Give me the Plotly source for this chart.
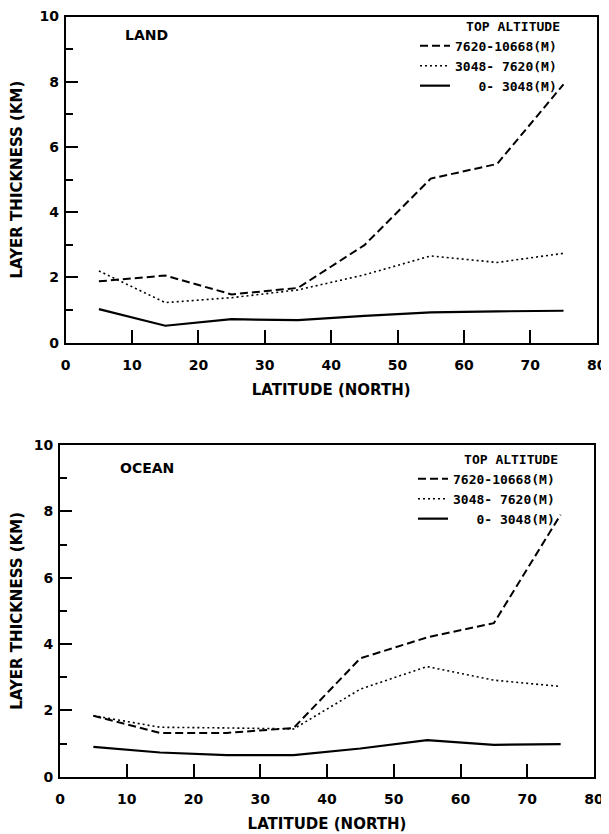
import plotly.graph_objects as go

lat = [5, 15, 25, 35, 45, 55, 65, 75]

land_upper = [1.88, 2.06, 1.48, 1.68, 2.99, 5.03, 5.48, 7.92]
land_middle = [2.20, 1.23, 1.38, 1.62, 2.08, 2.66, 2.46, 2.74]
land_lower = [1.03, 0.52, 0.72, 0.69, 0.82, 0.93, 0.96, 0.98]

ocean_upper = [1.84, 1.32, 1.32, 1.47, 3.57, 4.20, 4.63, 7.90]
ocean_middle = [1.84, 1.49, 1.47, 1.44, 2.64, 3.32, 2.91, 2.72]
ocean_lower = [0.90, 0.73, 0.65, 0.65, 0.85, 1.10, 0.96, 0.98]

series_names = ["7620-10668(M)", "3048-\u00a07620(M)", "\u00a0\u00a0\u00a00-\u00a03048(M)"]
panel_labels = ["LAND", "OCEAN"]
x_ticks = [0, 10, 20, 30, 40, 50, 60, 70, 80]
y_ticks = [0, 2, 4, 6, 8, 10]

styles = [
    dict(color="black", width=2, dash="8px,4px"),
    dict(color="black", width=1.6, dash="2px,3px"),
    dict(color="black", width=2.2, dash="solid"),
]

FONT = "DejaVu Sans"
MONO = "DejaVu Sans Mono"

fig = go.Figure()

panels = [
    ("x", "y", "legend", [land_upper, land_middle, land_lower]),
    ("x2", "y2", "legend2", [ocean_upper, ocean_middle, ocean_lower]),
]
for xa, ya, lg, data in panels:
    for name, vals, st in zip(series_names, data, styles):
        fig.add_trace(go.Scatter(
            x=lat, y=vals, mode="lines", name=name, line=st,
            xaxis=xa, yaxis=ya, legend=lg, showlegend=True,
        ))

W, H = 609, 834
OFF = 8  # page body margin offset


def px_x(p):
    return (p - OFF) / W


def px_y(p):
    return (H - (p - OFF)) / H


top_dom_x = [px_x(65.7), px_x(596.7)]
top_dom_y = [px_y(342.7), px_y(16.5)]
bot_dom_x = [px_x(60), px_x(594)]
bot_dom_y = [px_y(776.7), px_y(445)]

tickfont = dict(family=FONT, size=14, color="black", weight="bold")
titlefont = dict(family=FONT, size=15, color="black", weight="bold")


def xaxis(dom, anchor):
    return dict(
        domain=dom, anchor=anchor, range=[0, 80], tickvals=x_ticks,
        ticks="inside", ticklen=13, tickwidth=2, tickcolor="black",
        showline=True, linewidth=2, linecolor="black", mirror=True,
        showgrid=False, zeroline=False, tickfont=tickfont,
        ticklabelstandoff=8, automargin=False, ticklabeloverflow="allow",
        title=dict(text="LATITUDE (NORTH)", font=titlefont, standoff=13),
    )


def yaxis(dom, anchor):
    return dict(
        domain=dom, anchor=anchor, range=[0, 10], tickvals=y_ticks,
        ticks="inside", ticklen=12, tickwidth=2, tickcolor="black",
        minor=dict(dtick=1, ticks="inside", ticklen=7, tickwidth=2, tickcolor="black"),
        showline=True, linewidth=2, linecolor="black", mirror=True,
        showgrid=False, zeroline=False, tickfont=tickfont,
        ticklabelstandoff=2, automargin=False, ticklabeloverflow="allow",
        title=dict(text="LAYER THICKNESS (KM)", font=titlefont, standoff=14),
    )


legfont = dict(family=MONO, size=13, color="black", weight="bold")


def legend(x, y):
    return dict(
        x=x, y=y, xanchor="right", yanchor="top", xref="paper", yref="paper",
        bgcolor="rgba(0,0,0,0)", borderwidth=0, font=legfont,
        title=dict(text="TOP ALTITUDE", font=legfont, side="top right"),
        traceorder="normal", itemwidth=30, tracegroupgap=0,
    )


fig.update_layout(
    width=W, height=H,
    margin=dict(l=0, r=0, t=0, b=0),
    paper_bgcolor="white", plot_bgcolor="white",
    xaxis=xaxis(top_dom_x, "y"),
    yaxis=yaxis(top_dom_y, "x"),
    xaxis2=xaxis(bot_dom_x, "y2"),
    yaxis2=yaxis(bot_dom_y, "x2"),
    legend=legend(px_x(562), px_y(14)),
    legend2=legend(px_x(560), px_y(447)),
    showlegend=True,
)

for lab, xr, yr, yy in [
    (panel_labels[0], "x domain", "y domain", 0.942),
    (panel_labels[1], "x2 domain", "y2 domain", 0.93),
]:
    fig.add_annotation(
        text=lab, x=0.108, y=yy, xref=xr, yref=yr,
        xanchor="left", yanchor="middle", showarrow=False,
        font=dict(family=FONT, size=14, color="black", weight="bold"),
    )

fig.write_html("out.html")
